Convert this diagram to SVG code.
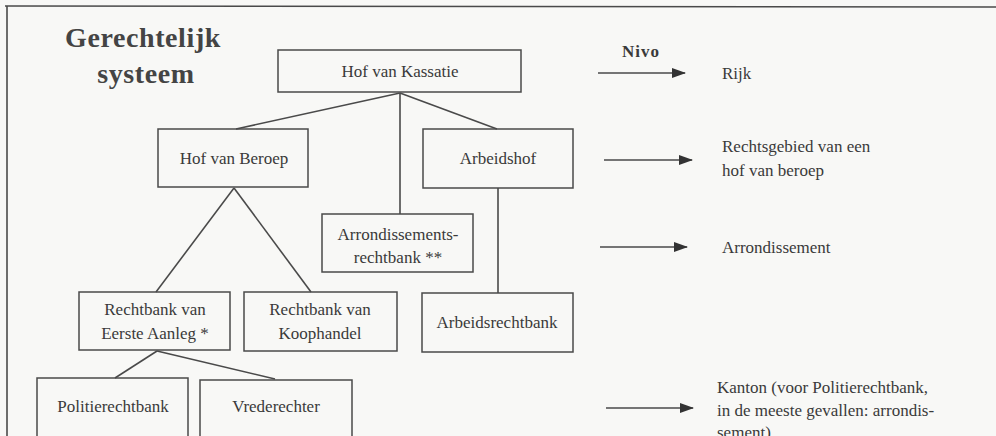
<svg xmlns="http://www.w3.org/2000/svg" width="996" height="436" viewBox="0 0 996 436">
<defs>
<style>
.bx{fill:none;stroke:#4a4a4a;stroke-width:1.5}
.ln{fill:none;stroke:#4a4a4a;stroke-width:1.6}
.t{font-family:"Liberation Serif","DejaVu Serif",serif;font-size:17px;fill:#3a3a3a;text-anchor:middle}
.tl{font-family:"Liberation Serif","DejaVu Serif",serif;font-size:17px;fill:#3a3a3a}
.ti{font-family:"Liberation Serif","DejaVu Serif",serif;font-size:28px;font-weight:bold;fill:#444;text-anchor:middle;letter-spacing:0.6px}
</style>
<marker id="ah" markerWidth="14" markerHeight="10" refX="13" refY="5" orient="auto" markerUnits="userSpaceOnUse">
<path d="M0,0 L14,5 L0,10 Z" fill="#333"/>
</marker>
</defs>
<rect width="996" height="436" fill="#f8f8f6"/>
<g id="frame" class="ln">
<line x1="5" y1="6" x2="996" y2="7"/>
<line x1="7" y1="6" x2="7" y2="436"/>
</g>
<g id="title">
<text class="ti" x="143" y="47">Gerechtelijk</text>
<text class="ti" x="146" y="83">systeem</text>
</g>
<g id="connectors" class="ln">
<line x1="400" y1="93" x2="236" y2="129"/>
<line x1="400" y1="93" x2="400" y2="214"/>
<line x1="400" y1="93" x2="497" y2="129"/>
<line x1="234" y1="188" x2="156" y2="292"/>
<line x1="234" y1="188" x2="311" y2="292"/>
<line x1="498" y1="188" x2="498" y2="293"/>
<line x1="157" y1="351" x2="115" y2="378"/>
<line x1="157" y1="351" x2="275" y2="379"/>
</g>
<g id="n-kassatie"><rect class="bx" x="278" y="50" width="243" height="42"/><text class="t" x="400" y="77">Hof van Kassatie</text></g>
<g id="n-beroep"><rect class="bx" x="158" y="129" width="150" height="58"/><text class="t" x="234" y="164">Hof van Beroep</text></g>
<g id="n-arbeidshof"><rect class="bx" x="423" y="129" width="150" height="59"/><text class="t" x="498" y="164">Arbeidshof</text></g>
<g id="n-arrond"><rect class="bx" x="322" y="214" width="151" height="58"/><text class="t" x="398" y="240">Arrondissements-</text><text class="t" x="398" y="263">rechtbank **</text></g>
<g id="n-eerste"><rect class="bx" x="79" y="292" width="151" height="58"/><text class="t" x="155" y="315">Rechtbank van</text><text class="t" x="155" y="339">Eerste Aanleg *</text></g>
<g id="n-koophandel"><rect class="bx" x="244" y="292" width="153" height="59"/><text class="t" x="320" y="315">Rechtbank van</text><text class="t" x="320" y="339">Koophandel</text></g>
<g id="n-arbeidsrb"><rect class="bx" x="422" y="293" width="151" height="59"/><text class="t" x="497" y="328">Arbeidsrechtbank</text></g>
<g id="n-politie"><rect class="bx" x="37" y="378" width="151" height="64"/><text class="t" x="113" y="412">Politierechtbank</text></g>
<g id="n-vrede"><rect class="bx" x="200" y="380" width="152" height="62"/><text class="t" x="276" y="412">Vrederechter</text></g>
<g id="levels">
<text class="tl" x="622" y="57" style="font-weight:bold;font-size:17px;letter-spacing:1px">Nivo</text>
<g class="ln">
<line x1="598" y1="73" x2="685" y2="73" marker-end="url(#ah)"/>
<line x1="604" y1="160" x2="692" y2="160" marker-end="url(#ah)"/>
<line x1="600" y1="247" x2="687" y2="247" marker-end="url(#ah)"/>
<line x1="606" y1="408" x2="693" y2="408" marker-end="url(#ah)"/>
</g>
<text class="tl" x="722" y="79">Rijk</text>
<text class="tl" x="722" y="152">Rechtsgebied van een</text>
<text class="tl" x="722" y="176">hof van beroep</text>
<text class="tl" x="722" y="253">Arrondissement</text>
<text class="tl" x="717" y="393">Kanton (voor Politierechtbank,</text>
<text class="tl" x="717" y="416">in de meeste gevallen: arrondis-</text>
<text class="tl" x="717" y="438">sement)</text>
</g>
</svg>
